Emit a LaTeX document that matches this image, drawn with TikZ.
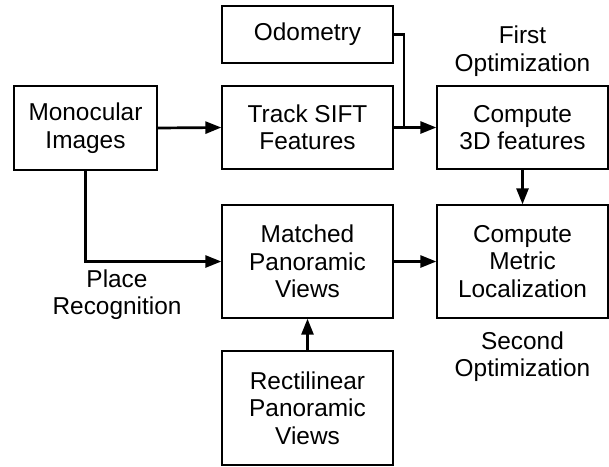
\documentclass[tikz,border=0pt]{standalone}
\usepackage{fontspec}
\setmainfont{Liberation Sans}
\usetikzlibrary{arrows.meta}
\begin{document}
\begin{tikzpicture}[x=1pt,y=-1pt,
  box/.style={draw, line width=1.3pt, inner sep=0pt, align=center, minimum width=171pt,
    font=\fontsize{24.4}{27.5}\selectfont},
  lbl/.style={inner sep=0pt, align=center, font=\fontsize{24.4}{27.5}\selectfont},
  conn/.style={line width=2.7pt},
  arr/.style={conn, -{Triangle[length=16pt,width=12pt]}}]
\useasboundingbox (0,0) rectangle (609,466);
\node[box, minimum width=143pt, minimum height=84pt] (mono) at (85.5,128) {Monocular\\Images};
\node[box, minimum height=57pt] (odo) at (307.5,34.5) {Odometry};
\node[box, minimum height=83pt] (track) at (307.5,127.5) {Track SIFT\\Features};
\node[box, minimum height=83pt] (c3d) at (522.5,127.5) {Compute\\3D features};
\node[box, minimum height=113pt] (match) at (307.5,261.5) {Matched\\Panoramic\\Views};
\node[box, minimum height=113pt] (metric) at (522.5,261.5) {Compute\\Metric\\Localization};
\node[box, minimum height=114pt] (rect) at (307.5,408) {Rectilinear\\Panoramic\\Views};
\node[lbl] (first) at (522.5,51) {First\\Optimization};
\node[lbl] (second) at (522.5,356.5) {Second\\Optimization};
\node[lbl] (place) at (117,294.5) {Place\\Recognition};
\coordinate (j) at (404,127.5);
\draw[arr] (mono.east) -- (track.west);
\draw[conn] (odo.east) -| (j);
\draw[arr] (track.east) -- (c3d.west);
\draw[arr] (c3d.south) -- (metric.north);
\draw[arr] (mono.south) |- (match.west);
\draw[arr] (match.east) -- (metric.west);
\draw[arr] (rect.north) -- (match.south);
\end{tikzpicture}
\end{document}
